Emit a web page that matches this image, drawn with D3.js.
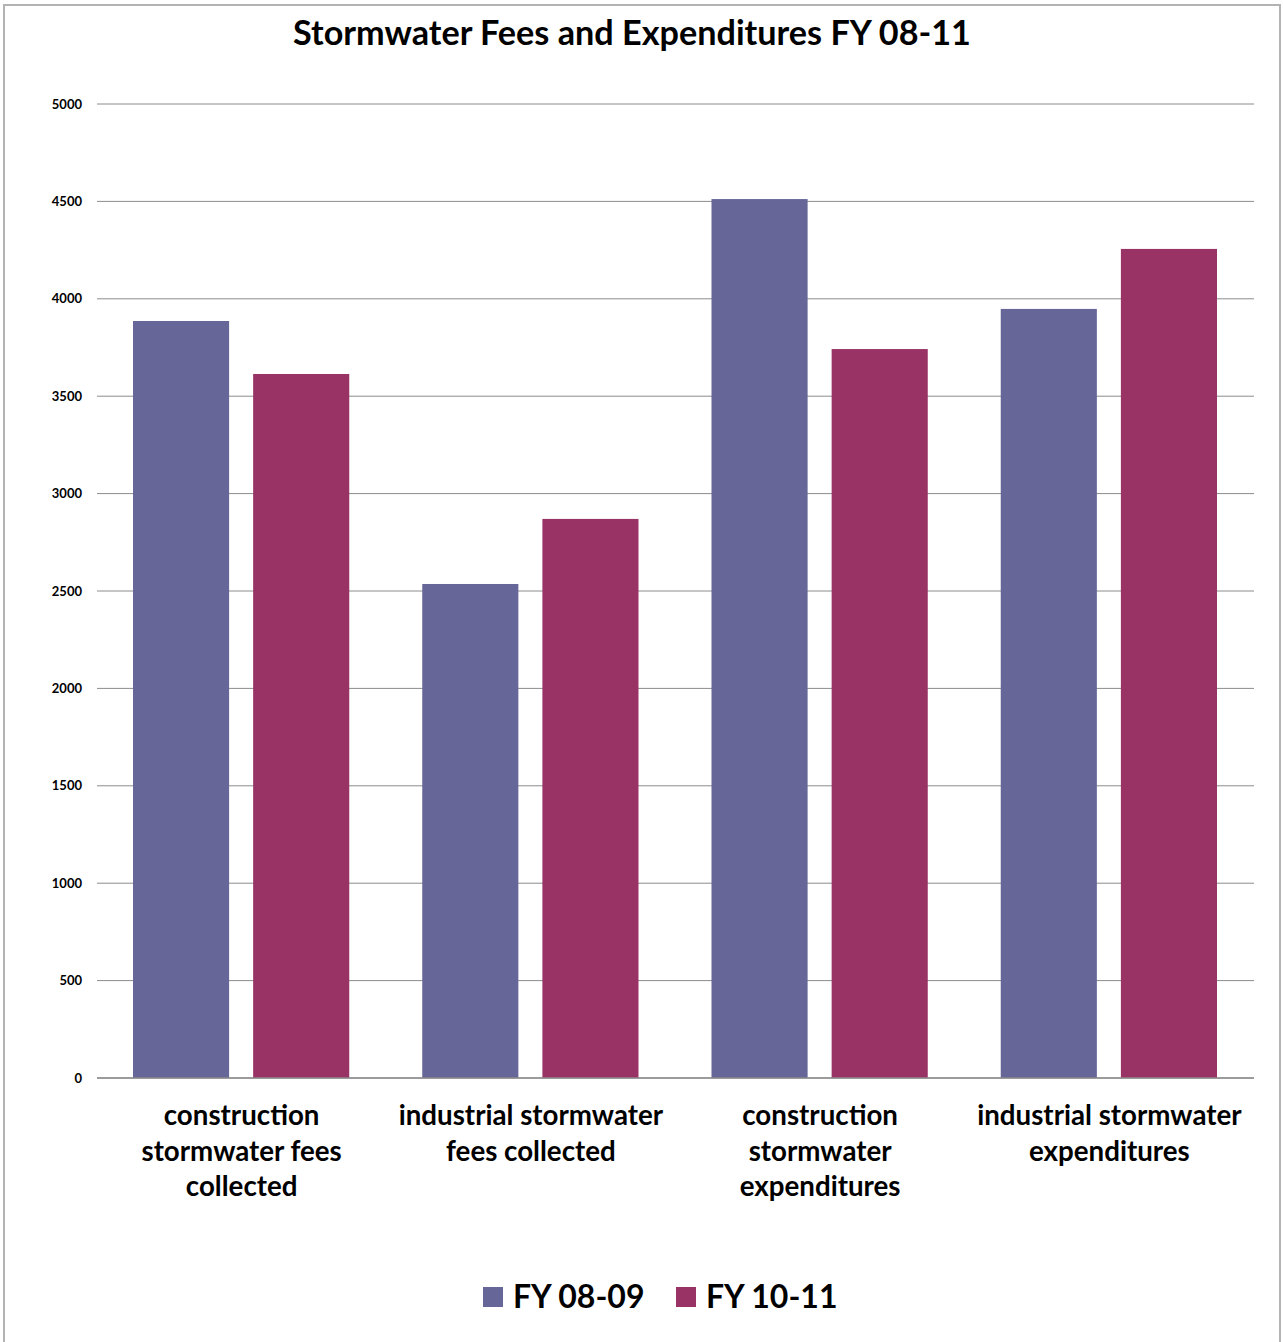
<!DOCTYPE html>
<html>
<head>
<meta charset="utf-8">
<script src="https://cdn.jsdelivr.net/npm/d3@7"></script>
<style>
  html, body { margin: 0; padding: 0; background: #fff; }
  svg { display: block; }
  text { font-family: Lato, "Open Sans", sans-serif; font-weight: bold; fill: #000; }
</style>
</head>
<body>
<script>
const categories = [
  ["construction", "stormwater fees", "collected"],
  ["industrial stormwater", "fees collected"],
  ["construction", "stormwater", "expenditures"],
  ["industrial stormwater", "expenditures"]
];
const seriesNames = ["FY 08-09", "FY 10-11"];
const fy0809 = [3886, 2536, 4512, 3948];
const fy1011 = [3614, 2870, 3742, 4256];
const yTicks = [0, 500, 1000, 1500, 2000, 2500, 3000, 3500, 4000, 4500, 5000];
const colors = ["#666699", "#993366"];
const title = "Stormwater Fees and Expenditures FY 08-11";

(function () {
const W = 1283, H = 1342;
const svg = d3.select("body").append("svg").attr("width", W).attr("height", H);

// outer border
svg.append("rect").attr("x", 4).attr("y", 5).attr("width", 1276).attr("height", 1345)
  .attr("fill", "none").attr("stroke", "#b3b3b3").attr("stroke-width", 2);

const pLeft = 97, pRight = 1254, pTop = 104, pBottom = 1078;

const x0 = d3.scaleBand().domain(d3.range(categories.length)).range([pLeft, pRight]).paddingInner(0).paddingOuter(0);
const x1 = d3.scaleBand().domain(seriesNames).range([36, x0.bandwidth() - 37]).paddingInner(0.2).paddingOuter(0);
const y = d3.scaleLinear().domain([0, 5000]).range([pBottom, pTop]);

// gridlines
svg.append("g").selectAll("line").data(yTicks).join("line")
  .attr("x1", pLeft).attr("x2", pRight)
  .attr("y1", d => y(d)).attr("y2", d => y(d))
  .attr("stroke", "#8c8c8c").attr("stroke-width", 1);

// y axis labels
const yAxis = d3.axisLeft(y).tickValues(yTicks).tickFormat(d3.format("d")).tickSize(0).tickPadding(15);
const yg = svg.append("g").attr("transform", `translate(${pLeft},0)`).call(yAxis);
yg.select(".domain").remove();
yg.selectAll("text").style("font-family", "Lato, sans-serif").style("font-weight", "bold")
  .style("font-size", "13px").attr("fill", "#000");

// bars
const seriesData = [fy0809, fy1011];
const groups = svg.append("g").selectAll("g").data(categories).join("g")
  .attr("transform", (d, i) => `translate(${x0(i)},0)`);
groups.selectAll("rect").data((d, i) => seriesNames.map((s, j) => ({ s, v: seriesData[j][i], j })))
  .join("rect")
  .attr("x", d => x1(d.s)).attr("width", x1.bandwidth())
  .attr("y", d => y(d.v)).attr("height", d => y(0) - y(d.v))
  .attr("fill", d => colors[d.j]);

// baseline
svg.append("line").attr("x1", pLeft).attr("x2", pRight).attr("y1", y(0)).attr("y2", y(0))
  .attr("stroke", "#8c8c8c").attr("stroke-width", 1.5);

// category labels
const catG = svg.append("g");
categories.forEach((lines, i) => {
  const cx = x0(i) + x0.bandwidth() / 2;
  const t = catG.append("text").attr("text-anchor", "middle")
    .attr("x", cx).attr("y", 1125)
    .style("font-size", "27.7px");
  lines.forEach((ln, k) => {
    t.append("tspan").attr("x", cx).attr("dy", k === 0 ? 0 : 35.5).text(ln);
  });
});

// title
svg.append("text").attr("x", 632).attr("y", 45).attr("text-anchor", "middle")
  .style("font-size", "34.2px").text(title);

// legend
const legend = svg.append("g");
const legendX = [483, 676];
seriesNames.forEach((s, i) => {
  legend.append("rect").attr("x", legendX[i]).attr("y", 1287).attr("width", 20).attr("height", 20).attr("fill", colors[i]);
  legend.append("text").attr("x", legendX[i] + 30).attr("y", 1308).style("font-size", "32px").text(s);
});
})();
</script>
</body>
</html>
